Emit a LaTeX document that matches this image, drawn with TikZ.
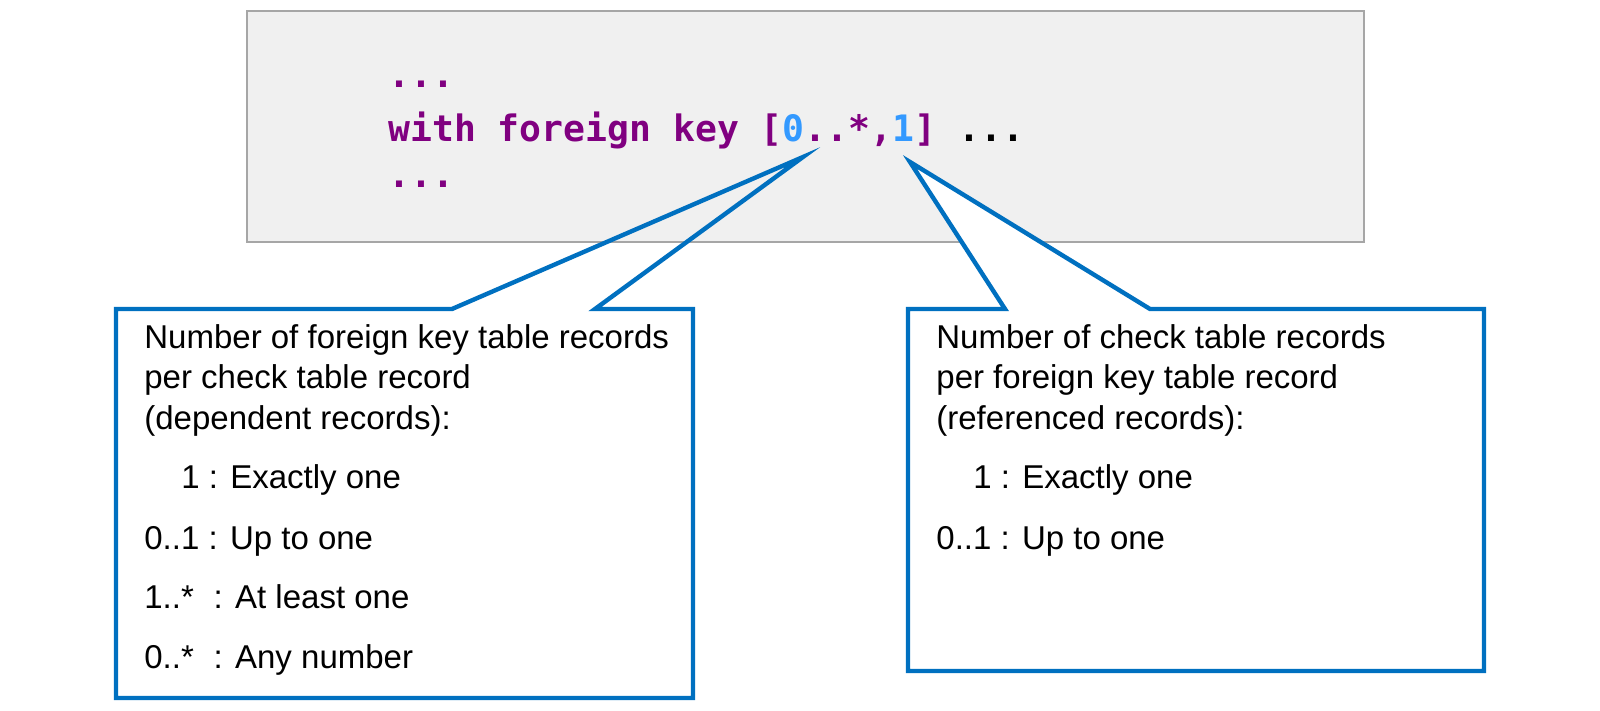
\documentclass[tikz,border=0pt]{standalone}
\usepackage{fontspec}
\setmainfont{Liberation Sans}
\newfontfamily\codefont{DejaVu Sans Mono}
\definecolor{kwpurple}{RGB}{128,0,128}
\definecolor{numblue}{RGB}{51,153,255}
\definecolor{calloutblue}{RGB}{0,112,192}
\definecolor{codegray}{RGB}{240,240,240}
\definecolor{framegray}{RGB}{166,166,166}
\begin{document}
\begin{tikzpicture}[x=0.5pt,y=-0.5pt]
	\tikzset{code/.style={anchor=base west,inner sep=0pt,text=kwpurple,font=\codefont\bfseries\fontsize{18.2}{18.2}\selectfont},
		txt/.style={anchor=base west,inner sep=0pt,font=\fontsize{16.5}{16.5}\selectfont},
		callout/.style={draw=calloutblue,line width=2.2pt,line join=miter}}
	\useasboundingbox (0,0) rectangle (1600,711);
	
	% corners and pointer tips
	\coordinate (A1) at (116,309);
	\coordinate (A2) at (693,698);
	\coordinate (Ab1) at (452,309);
	\coordinate (Ab2) at (595,309);
	\coordinate (At) at (803,157);
	
	\coordinate (B1) at (908,309);
	\coordinate (B2) at (1484,671);
	\coordinate (Bb1) at (1005,309);
	\coordinate (Bb2) at (1150,309);
	\coordinate (Bt) at (910,162);
	
	% left callout (white part only)
	\fill[white] (A1) -- (Ab1) -- (At) -- (Ab2) -- (A2 |- A1) -- (A2) -- (A1 |- A2) -- cycle;
	
	% code box
	\node[draw=framegray,fill=codegray,line width=1pt,minimum width=558.5pt,minimum height=115.5pt,anchor=north west,inner sep=0pt] (codebox) at (246,10) {};
	
	\node[code] (dots1) at (388,88) {...};
	\node[code] (fk) at (388,142) {with foreign key [{\color{numblue}0}..*,{\color{numblue}1}] {\color{black}...}};
	\node[code] (dots2) at (388,188) {...};
	
	% callout outlines
	\draw[callout] (A1) -- (Ab1) -- (At) -- (Ab2) -- (A2 |- A1) -- (A2) -- (A1 |- A2) -- cycle;
	\draw[callout,fill=white] (B1) -- (Bb1) -- (Bt) -- (Bb2) -- (B2 |- B1) -- (B2) -- (B1 |- B2) -- cycle;
	
	% left text
	\node[txt] (l1) at (144,348) {Number of foreign key table records};
	\node[txt] (l2) at (144,388) {per check table record};
	\node[txt] (l3) at (144,429) {(dependent records):};
	\node[txt] (l4) at (181,488) {1 : Exactly one};
	\node[txt] (l5) at (144,549) {0..1 : Up to one};
	\node[txt] (l6) at (144,608) {1..*\hspace{0.6em}: At least one};
	\node[txt] (l7) at (144,668) {0..*\hspace{0.6em}: Any number};
	
	% right text
	\node[txt] (r1) at (936,348) {Number of check table records};
	\node[txt] (r2) at (936,388) {per foreign key table record};
	\node[txt] (r3) at (936,429) {(referenced records):};
	\node[txt] (r4) at (973,488) {1 : Exactly one};
	\node[txt] (r5) at (936,549) {0..1 : Up to one};
	
\end{tikzpicture}
\end{document}
